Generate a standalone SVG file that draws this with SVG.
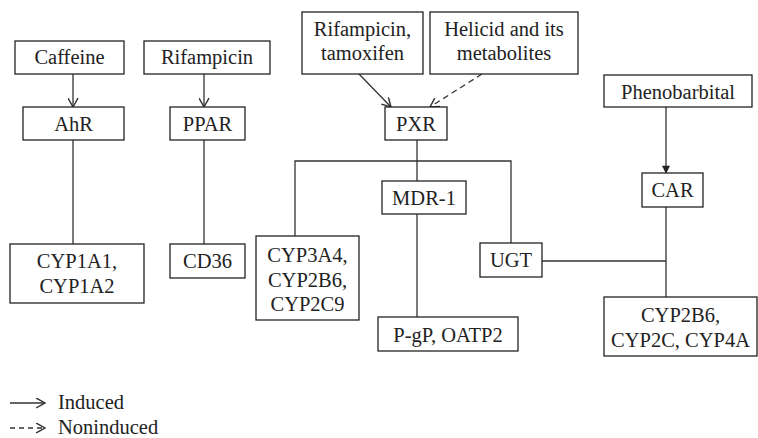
<svg xmlns="http://www.w3.org/2000/svg" width="758" height="438" viewBox="0 0 758 438">
<defs>
<style>
.box{fill:#fff;stroke:#222;stroke-width:1.3}
.t{font-size:20.5px;fill:#222;text-anchor:middle}
.tl{font-size:20.5px;fill:#222}
.c{fill:none;stroke:#333;stroke-width:1.3}
.d{stroke-dasharray:6,4}
</style>
<marker id="chev" viewBox="0 0 10 10" refX="9" refY="5" markerWidth="11" markerHeight="11" markerUnits="userSpaceOnUse" orient="auto">
<path d="M1,0.5 L9,5 L1,9.5" fill="none" stroke="#333" stroke-width="1.3"/>
</marker>
<marker id="tri" viewBox="0 0 10 10" refX="9" refY="5" markerWidth="9" markerHeight="8" markerUnits="userSpaceOnUse" orient="auto">
<path d="M0,0 L10,5 L0,10 Z" fill="#222"/>
</marker>
</defs>
<rect width="758" height="438" fill="#fff"/>
<g id="connectors">
<line class="c" x1="73" y1="74" x2="73" y2="107" marker-end="url(#chev)"/>
<line class="c" x1="204" y1="74" x2="204" y2="107" marker-end="url(#chev)"/>
<line class="c" x1="73" y1="140" x2="73" y2="244"/>
<line class="c" x1="204" y1="140" x2="204" y2="244"/>
<line class="c" x1="359" y1="74" x2="391" y2="107" marker-end="url(#chev)"/>
<line class="c d" x1="482" y1="74" x2="430" y2="107" marker-end="url(#chev)"/>
<line class="c" x1="666" y1="107" x2="666" y2="173" marker-end="url(#tri)"/>
<line class="c" x1="417" y1="140" x2="417" y2="181"/>
<polyline class="c" points="295,236 295,161 511,161 511,243"/>
<line class="c" x1="417" y1="214" x2="417" y2="317"/>
<line class="c" x1="542" y1="261" x2="666" y2="261"/>
<line class="c" x1="666" y1="207" x2="666" y2="297"/>
</g>
<g font-family="Liberation Serif, DejaVu Serif, Times New Roman, serif">
<g id="caffeine"><rect class="box" x="15" y="41" width="109" height="33"/><text class="t" x="69.5" y="64">Caffeine</text></g>
<g id="rifampicin"><rect class="box" x="144" y="41" width="126" height="33"/><text class="t" x="207" y="64">Rifampicin</text></g>
<g id="ahr"><rect class="box" x="23" y="107" width="101" height="33"/><text class="t" x="73.5" y="131">AhR</text></g>
<g id="ppar"><rect class="box" x="170" y="107" width="75" height="33"/><text class="t" x="207.5" y="131">PPAR</text></g>
<g id="rifampicin-tamoxifen"><rect class="box" x="302" y="12" width="121" height="62"/><text class="t" x="362.5" y="36">Rifampicin,</text><text class="t" x="362.5" y="60">tamoxifen</text></g>
<g id="helicid"><rect class="box" x="430" y="12" width="148" height="62"/><text class="t" x="504" y="36">Helicid and its</text><text class="t" x="504" y="60">metabolites</text></g>
<g id="pxr"><rect class="box" x="385" y="107" width="62" height="33"/><text class="t" x="416" y="131">PXR</text></g>
<g id="phenobarbital"><rect class="box" x="604" y="75" width="148" height="32"/><text class="t" x="678" y="99">Phenobarbital</text></g>
<g id="car"><rect class="box" x="642" y="173" width="61" height="34"/><text class="t" x="672.5" y="197">CAR</text></g>
<g id="mdr1"><rect class="box" x="382" y="181" width="84" height="33"/><text class="t" x="424" y="205">MDR-1</text></g>
<g id="cyp1a"><rect class="box" x="10" y="244" width="134" height="59"/><text class="t" x="77" y="268">CYP1A1,</text><text class="t" x="77" y="293">CYP1A2</text></g>
<g id="cd36"><rect class="box" x="170" y="244" width="75" height="34"/><text class="t" x="207.5" y="268">CD36</text></g>
<g id="cyp3a4"><rect class="box" x="256" y="236" width="103" height="84"/><text class="t" x="307.5" y="262">CYP3A4,</text><text class="t" x="307.5" y="287">CYP2B6,</text><text class="t" x="307.5" y="311">CYP2C9</text></g>
<g id="ugt"><rect class="box" x="480" y="243" width="62" height="34"/><text class="t" x="511" y="267">UGT</text></g>
<g id="pgp"><rect class="box" x="378" y="317" width="140" height="34"/><text class="t" x="448" y="342">P-gP, OATP2</text></g>
<g id="cyp2b6"><rect class="box" x="604" y="297" width="153" height="59"/><text class="t" x="680.5" y="322">CYP2B6,</text><text class="t" x="680.5" y="347">CYP2C, CYP4A</text></g>
<g id="legend">
<line class="c" x1="10" y1="403" x2="45" y2="403" marker-end="url(#chev)"/>
<text class="tl" x="58" y="409">Induced</text>
<line class="c" x1="10" y1="428" x2="45" y2="428" stroke-dasharray="5,4" marker-end="url(#chev)"/>
<text class="tl" x="58" y="434">Noninduced</text>
</g>
</g>
</svg>
